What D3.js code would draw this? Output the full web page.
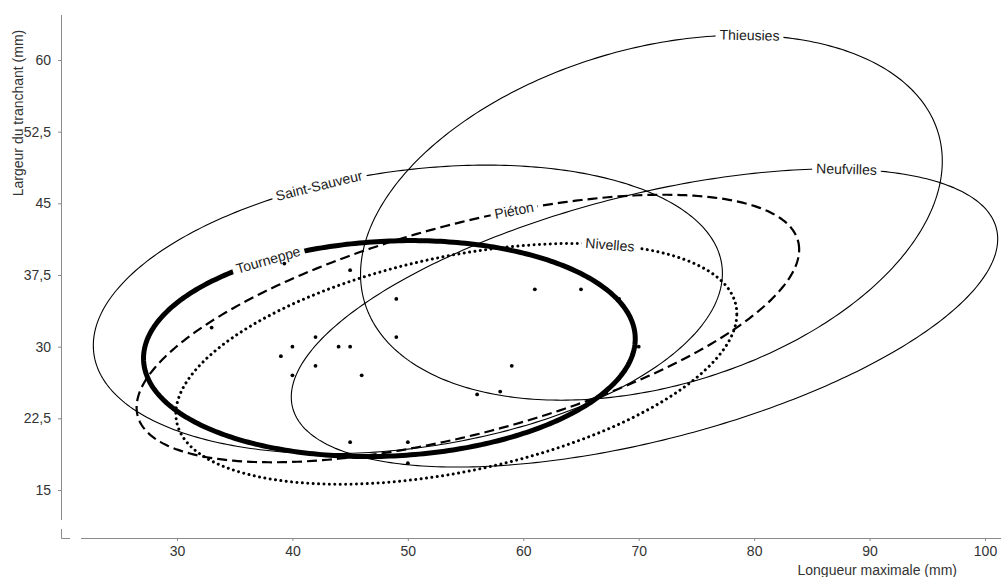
<!DOCTYPE html>
<html>
<head>
<meta charset="utf-8">
<script src="https://cdnjs.cloudflare.com/ajax/libs/d3/7.8.5/d3.min.js"></script>
<style>
  body { margin: 0; background: #fff; }
  text { font-family: "Liberation Sans", Arial, sans-serif; }
</style>
</head>
<body>
<script>
//Data: ellipses (centre, half-width, half-height, correlation) per site
    const sites   = ["Thieusies", "Saint-Sauveur", "Neufvilles", "Piéton", "Nivelles", "Tourneppe"];
    const centreX = [71.1, 50.0, 70.5, 55.2, 54.2, 48.4];
    const centreY = [43.5, 33.9, 33.0, 31.9, 28.2, 29.8];
    const demiX   = [25.2, 27.25, 30.6, 28.7, 24.3, 21.3];
    const demiY   = [19.1, 15.1, 15.6, 14.0, 12.6, 11.3];
    const correl  = [0.31, 0.25, 0.53, 0.59, 0.415, 0.09];
    const labelAt = [79.6, 42.3, 88.0, 59.2, 67.5, 37.9];

//Data: individual points
    const pointsX = [33, 39.3, 45, 42, 40, 44, 45, 39, 42, 40, 46, 49, 49, 61, 65, 68.3, 70, 59, 58, 56, 45, 50, 50];
    const pointsY = [32, 38.7, 38, 31, 30, 30, 30, 29, 28, 27, 27, 35, 31, 36, 36, 35, 30, 28, 25.3, 25, 20, 20, 17.8];

    const xTicks = [30, 40, 50, 60, 70, 80, 90, 100];
    const yTicks = [15, 22.5, 30, 37.5, 45, 52.5, 60];

//Styles
    const styles = {
        "Thieusies":     {width: 1.1, dash: null, cap: "butt"},
        "Saint-Sauveur": {width: 1.1, dash: null, cap: "butt"},
        "Neufvilles":    {width: 1.1, dash: null, cap: "butt"},
        "Piéton":        {width: 2.2, dash: "10 5", cap: "butt"},
        "Nivelles":      {width: 3, dash: "0.01 5.4", cap: "round"},
        "Tourneppe":     {width: 5,   dash: null, cap: "butt"}
    };

    const width = 1001;
    const height = 577;
    const fontSize = "14px";

    const svg = d3.select("body")
                    .append("svg")
                    .attr("width", width)
                    .attr("height", height);

    const x = d3.scaleLinear().domain([30, 100]).range([177, 985]);
    const y = d3.scaleLinear().domain([15, 60]).range([490, 60]);

    const fr = d3.formatLocale({decimal: ",", thousands: ".", grouping: [3], currency: ["", ""]}).format("~g");

//Axes
    const axisGrey = "#8a8a8a";

    const gx = svg.append("g")
                    .attr("transform", "translate(0 538)")
                    .call(d3.axisBottom(x).tickValues(xTicks).tickSize(3).tickPadding(5).tickSizeOuter(0).tickFormat(fr));
    gx.select(".domain").attr("d", "M81,0.5H1001");

    const gy = svg.append("g")
                    .attr("transform", "translate(62 0)")
                    .call(d3.axisLeft(y).tickValues(yTicks).tickSize(4).tickPadding(7).tickSizeOuter(0).tickFormat(fr));
    gy.select(".domain").attr("d", "M-0.5,15V520");

    [gx, gy].forEach(g => {
        g.selectAll("path, line").attr("stroke", axisGrey);
        g.selectAll("text").attr("fill", "#333").style("font-size", fontSize)
            .style("font-family", "'Liberation Sans', Arial, sans-serif");
    });

//Corner piece
    svg.append("path")
        .attr("d", "M61.5,529V538.5H70")
        .attr("fill", "none")
        .attr("stroke", axisGrey);

//Axis titles
    svg.append("text")
        .attr("transform", "translate(23 113) rotate(-90)")
        .attr("text-anchor", "middle")
        .attr("fill", "#333")
        .style("font-size", fontSize)
        .text("Largeur du tranchant (mm)");

    svg.append("text")
        .attr("x", 957)
        .attr("y", 575)
        .attr("text-anchor", "end")
        .attr("fill", "#333")
        .style("font-size", fontSize)
        .text("Longueur maximale (mm)");

//Ellipses
    function ellipsePoint(i, t) {
        const r = correl[i];
        return [centreX[i] + demiX[i] * Math.cos(t),
                centreY[i] + demiY[i] * (r * Math.cos(t) + Math.sqrt(1 - r * r) * Math.sin(t))];
    }

    const line = d3.line().x(d => x(d[0])).y(d => y(d[1]));

    sites.forEach((s, i) => {
        const pts = d3.range(0, 361).map(a => ellipsePoint(i, a * Math.PI / 180));
        const st = styles[s];
        svg.append("path")
            .attr("d", line(pts) + "Z")
            .attr("fill", "none")
            .attr("stroke", "#000")
            .attr("stroke-width", st.width)
            .attr("stroke-linecap", st.cap)
            .attr("stroke-dasharray", st.dash);
    });

//Labels on upper branch of each ellipse
    sites.forEach((s, i) => {
        const c = Math.max(-1, Math.min(1, (labelAt[i] - centreX[i]) / demiX[i]));
        const t = Math.acos(c);
        const p = ellipsePoint(i, t);
        const p1 = ellipsePoint(i, t - 0.01);
        const p0 = ellipsePoint(i, t + 0.01);
        const ang = Math.atan2(y(p1[1]) - y(p0[1]), x(p1[0]) - x(p0[0])) * 180 / Math.PI;

        const g = svg.append("g")
                    .attr("transform", `translate(${x(p[0])} ${y(p[1])}) rotate(${ang})`);
        const txt = g.append("text")
                    .attr("text-anchor", "middle")
                    .attr("dy", "0.35em")
                    .attr("fill", "#1a1a1a")
                    .style("font-size", fontSize)
                    .text(s);
        const b = txt.node().getBBox();
        g.insert("rect", "text")
            .attr("x", b.x - 4)
            .attr("y", -9)
            .attr("width", b.width + 8)
            .attr("height", 18)
            .attr("fill", "#fff");
    });

//Points
    svg.selectAll("circle.pt")
        .data(pointsX)
        .enter()
        .append("circle")
        .attr("class", "pt")
        .attr("cx", d => x(d))
        .attr("cy", (d, i) => y(pointsY[i]))
        .attr("r", 1.9)
        .attr("fill", "#000");
</script>
</body>
</html>
